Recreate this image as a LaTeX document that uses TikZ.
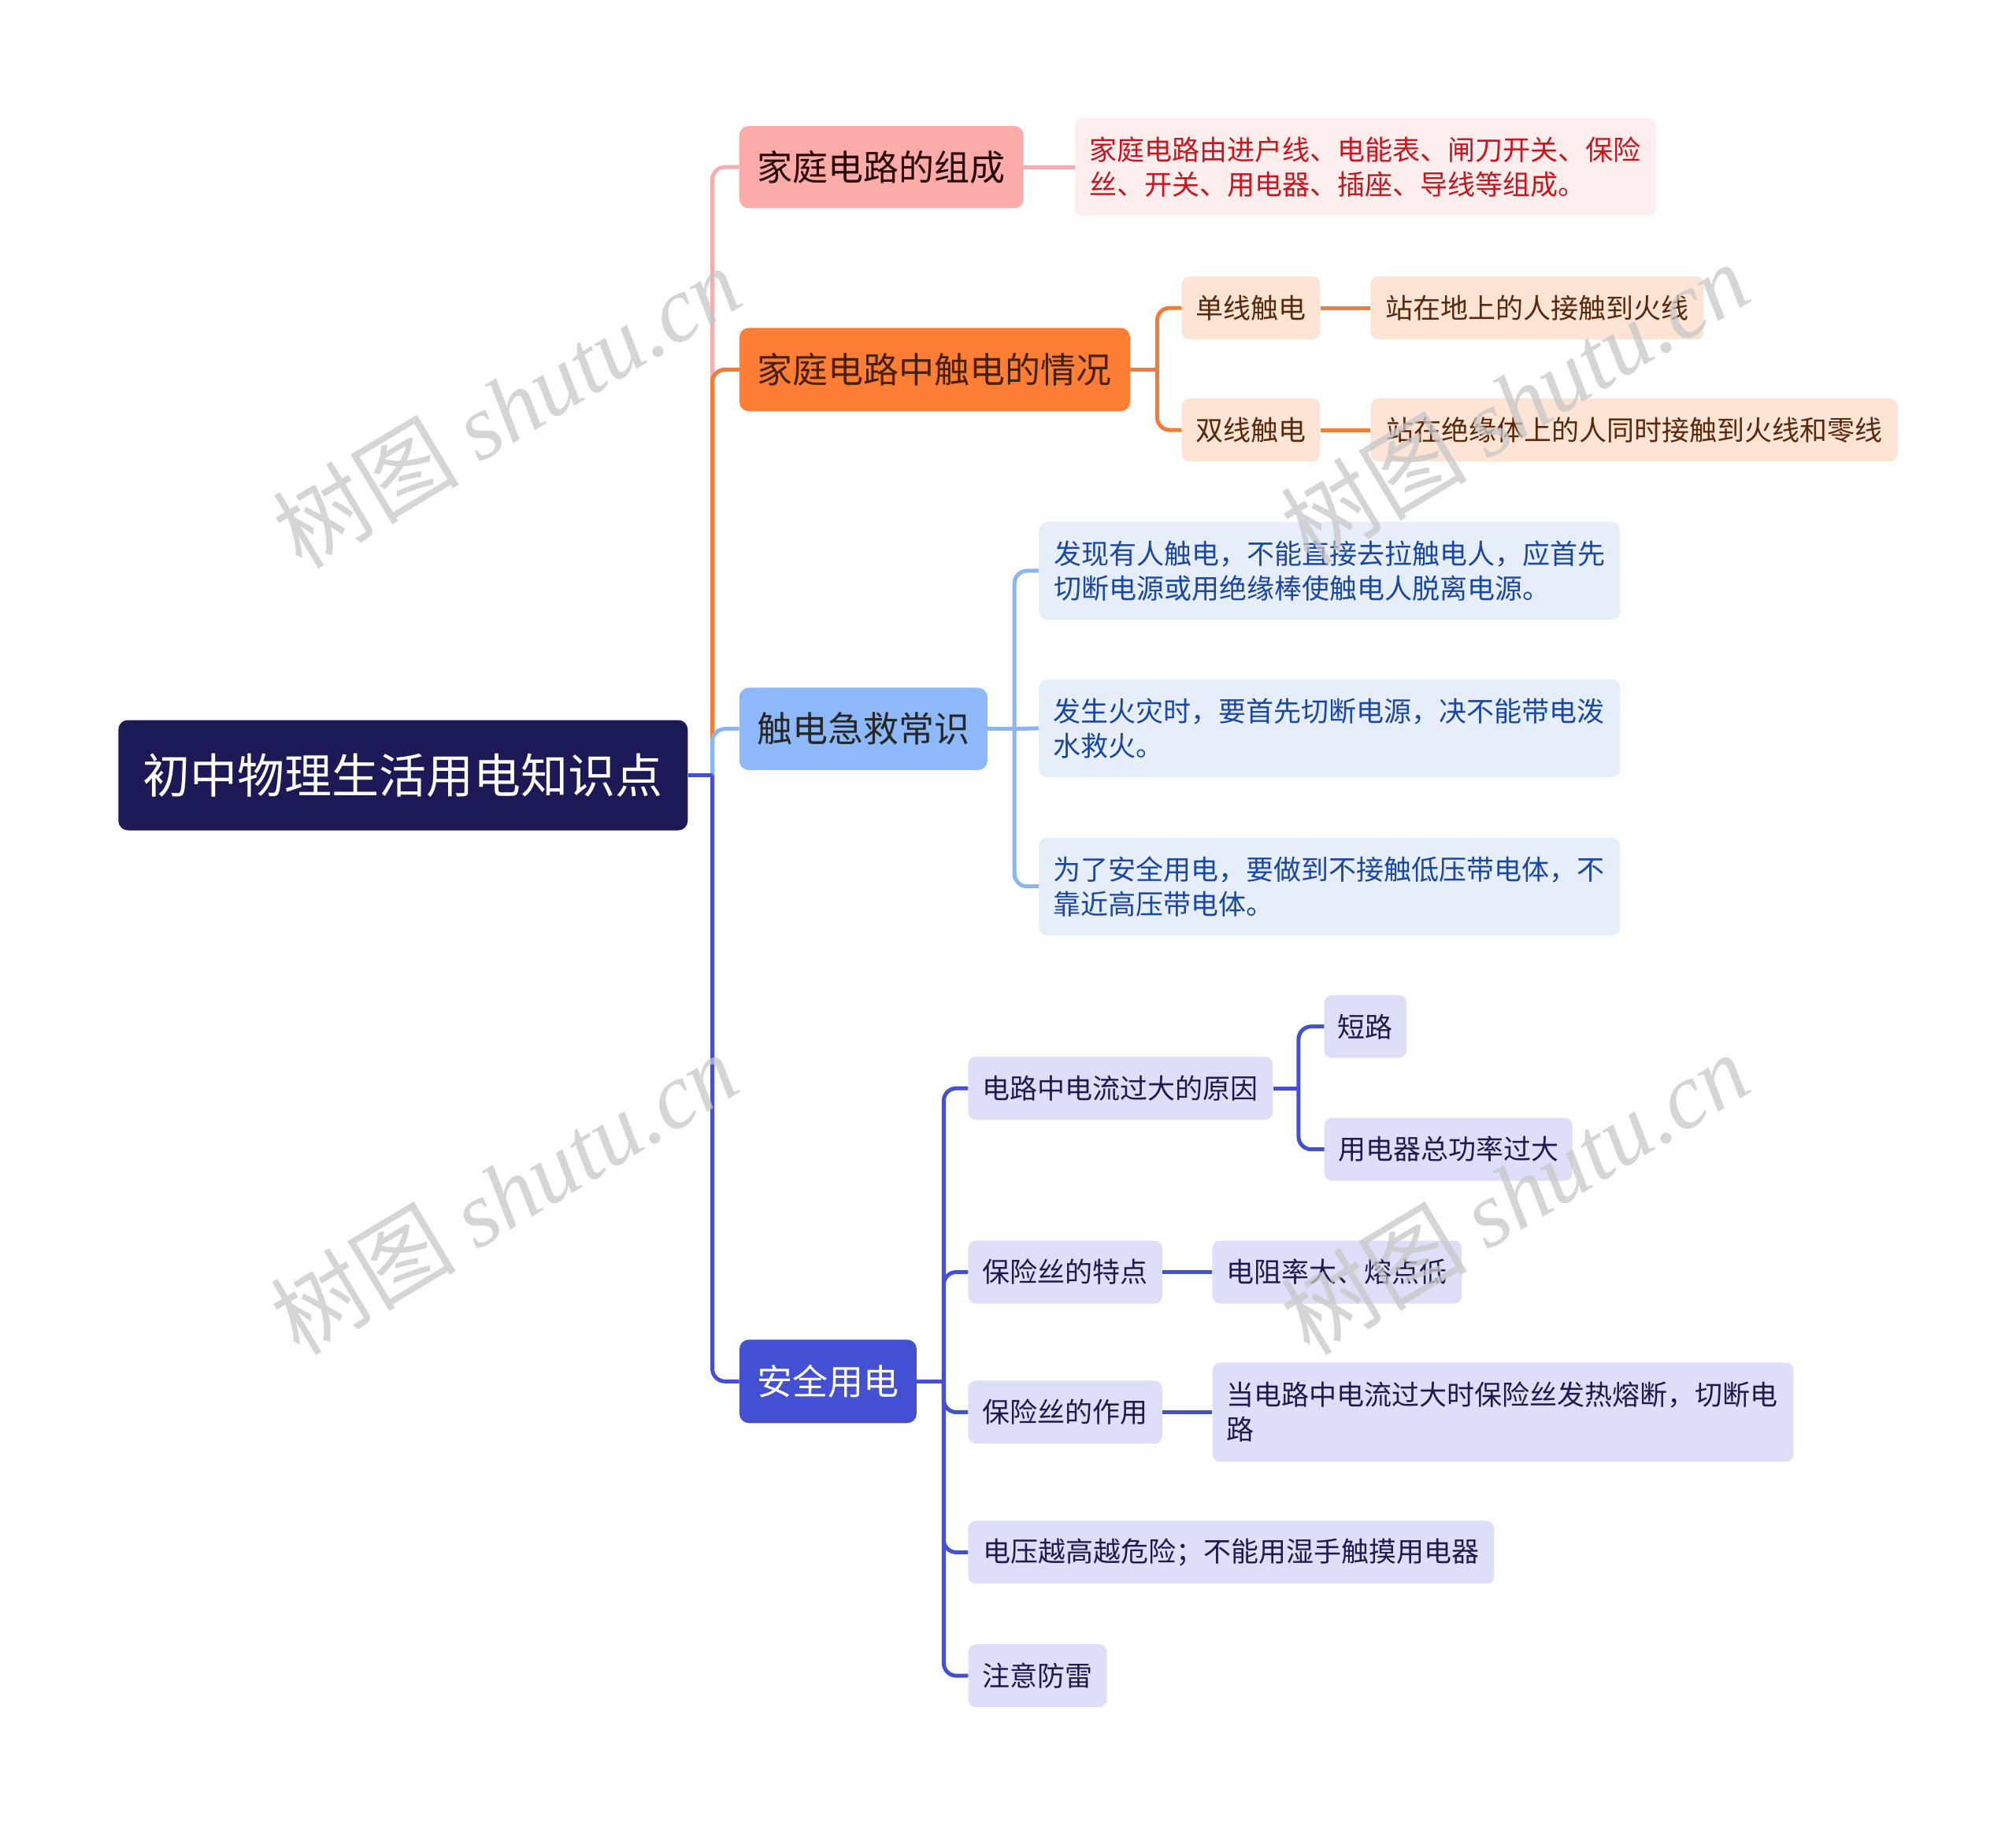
\documentclass[tikz,border=0pt]{standalone}
\usepackage{fontspec}
\setmainfont{Noto Sans CJK SC}
\newfontfamily\wmserif{Liberation Serif}
\begin{document}
\begin{tikzpicture}[x=1.6327pt,y=-1.6327pt,
  box/.style={rounded corners=12pt,inner sep=0pt,align=center,font=\fontsize{45}{56}\selectfont},
  small/.style={rounded corners=10pt,inner sep=0pt,align=center,minimum height=80pt,font=\fontsize{35}{44}\selectfont},
  leaf/.style={small,align=left,minimum height=124pt},
  conn/.style={line width=5pt,rounded corners=16pt},
  wm/.style={text=black!22,opacity=0.75,rotate=31,font=\fontsize{118}{118}\selectfont}
]
\definecolor{rootc}{HTML}{1B1A57}
\definecolor{pinkb}{HTML}{FCABA8}
\definecolor{pinkl}{HTML}{F6ADAD}
\definecolor{pinkbg}{HTML}{FDEDEC}
\definecolor{pinkt}{HTML}{C8161E}
\definecolor{orb}{HTML}{FD7E34}
\definecolor{orl}{HTML}{F07C36}
\definecolor{orbg}{HTML}{FDE4D5}
\definecolor{ort}{HTML}{5A280A}
\definecolor{blb}{HTML}{8DB8F9}
\definecolor{bll}{HTML}{8DB4F2}
\definecolor{blbg}{HTML}{E6EEFC}
\definecolor{blt}{HTML}{1A46A6}
\definecolor{inb}{HTML}{4450D2}
\definecolor{inl}{HTML}{4450CC}
\definecolor{inbg}{HTML}{DDDEF8}
\definecolor{int}{HTML}{1B1B50}
\useasboundingbox (0,0) rectangle (1568,1420.3);
\fill[white] (0,0) rectangle (1568,1420.3);

% root
\node[box,fill=rootc,text=white,minimum width=723pt,minimum height=140pt,font=\fontsize{60}{70}\selectfont] (root) at (313.5,603) {初中物理生活用电知识点};

% branch 1
\node[box,fill=pinkb,text=black!85!red,minimum width=361pt,minimum height=104.5pt] (b1) at (685.5,130) {家庭电路的组成};
\node[leaf,fill=pinkbg,text=pinkt,minimum width=738pt] (b1l) at (1062,130) {家庭电路由进户线、电能表、闸刀开关、保险\\丝、开关、用电器、插座、导线等组成。};

% branch 2
\node[box,fill=orb,text=ort!80!black,minimum width=496pt,minimum height=106pt] (b2) at (727,287.5) {家庭电路中触电的情况};
\node[small,fill=orbg,text=ort,minimum width=176pt] (s21) at (973,239.5) {单线触电};
\node[small,fill=orbg,text=ort,minimum width=176pt] (s22) at (973,334.5) {双线触电};
\node[small,fill=orbg,text=ort,minimum width=423pt] (l21) at (1195.5,239.5) {站在地上的人接触到火线};
\node[small,fill=orbg,text=ort,minimum width=669pt] (l22) at (1271,334.5) {站在绝缘体上的人同时接触到火线和零线};

% branch 3
\node[box,fill=blb,text=black!85,minimum width=315pt,minimum height=104.5pt] (b3) at (671.5,567) {触电急救常识};
\node[leaf,fill=blbg,text=blt,minimum width=738pt] (l31) at (1034,444) {发现有人触电，不能直接去拉触电人，应首先\\切断电源或用绝缘棒使触电人脱离电源。};
\node[leaf,fill=blbg,text=blt,minimum width=738pt,text width=702pt] (l32) at (1034,566.5) {发生火灾时，要首先切断电源，决不能带电泼\\水救火。};
\node[leaf,fill=blbg,text=blt,minimum width=738pt,text width=702pt] (l33) at (1034,689.5) {为了安全用电，要做到不接触低压带电体，不\\靠近高压带电体。};

% branch 4
\node[box,fill=inb,text=white,minimum width=225pt,minimum height=106pt] (b4) at (644,1074.5) {安全用电};
\node[small,fill=inbg,text=int,minimum width=387pt] (s1) at (871.5,846.5) {电路中电流过大的原因};
\node[small,fill=inbg,text=int,minimum width=104.5pt] (s11) at (1062,798.5) {短路};
\node[small,fill=inbg,text=int,minimum width=315pt] (s12) at (1126.5,894) {用电器总功率过大};
\node[small,fill=inbg,text=int,minimum width=246.5pt] (s2) at (828.5,989.5) {保险丝的特点};
\node[small,fill=inbg,text=int,minimum width=317pt] (s2l) at (1040,989.5) {电阻率大、熔点低};
\node[small,fill=inbg,text=int,minimum width=246.5pt] (s3) at (828.5,1098.5) {保险丝的作用};
\node[leaf,fill=inbg,text=int,minimum width=738pt,minimum height=126pt,text width=702pt] (s3l) at (1169,1098.5) {当电路中电流过大时保险丝发热熔断，切断电\\路};
\node[small,fill=inbg,text=int,minimum width=668pt] (s4) at (957.5,1207.5) {电压越高越危险；不能用湿手触摸用电器};
\node[small,fill=inbg,text=int,minimum width=176pt] (s5) at (807,1303.5) {注意防雷};

% junction coordinates
\coordinate (j0) at (554,603);
\coordinate (j2) at (900,287.5);
\coordinate (j3) at (789,567);
\coordinate (j4) at (734,1074.5);
\coordinate (j5) at (1010,846.5);

% connectors
\draw[conn,pinkl] (j0) |- (b1.west);
\draw[conn,orl] (j0) |- (b2.west);
\draw[conn,bll] (j0) |- (b3.west);
\draw[conn,inl] (j0) |- (b4.west);
\draw[conn,inl] (root.east) -- (j0);

\draw[conn,pinkl] (b1.east) -- (b1l.west);

\draw[conn,orl] (b2.east) -- (j2);
\draw[conn,orl] (j2) |- (s21.west);
\draw[conn,orl] (j2) |- (s22.west);
\draw[conn,orl] (s21.east) -- (l21.west);
\draw[conn,orl] (s22.east) -- (l22.west);

\draw[conn,bll] (b3.east) -- (j3);
\draw[conn,bll] (j3) |- (l31.west);
\draw[conn,bll] (j3) -- (l32.west);
\draw[conn,bll] (j3) |- (l33.west);

\draw[conn,inl] (b4.east) -- (j4);
\draw[conn,inl] (j4) |- (s1.west);
\draw[conn,inl] (j4) |- (s2.west);
\draw[conn,inl] (j4) |- (s3.west);
\draw[conn,inl] (j4) |- (s4.west);
\draw[conn,inl] (j4) |- (s5.west);
\draw[conn,inl] (s1.east) -- (j5);
\draw[conn,inl] (j5) |- (s11.west);
\draw[conn,inl] (j5) |- (s12.west);
\draw[conn,inl] (s2.east) -- (s2l.west);
\draw[conn,inl] (s3.east) -- (s3l.west);

% watermarks
\node[wm] (w1) at (394,316) {树图 {\wmserif\itshape shutu.cn}};
\node[wm] (w2) at (1178,313) {树图 {\wmserif\itshape shutu.cn}};
\node[wm] (w3) at (392,928) {树图 {\wmserif\itshape shutu.cn}};
\node[wm] (w4) at (1178,928) {树图 {\wmserif\itshape shutu.cn}};
\end{tikzpicture}
\end{document}
